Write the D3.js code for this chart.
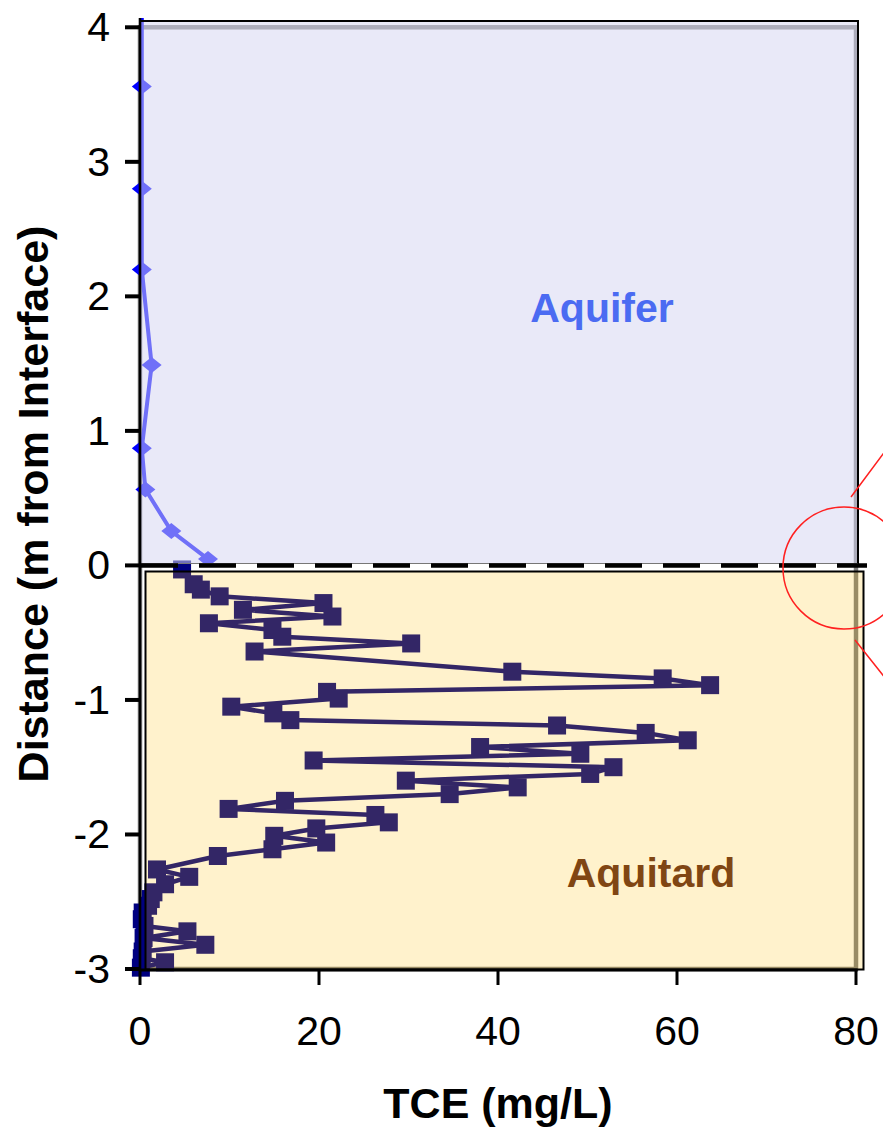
<!DOCTYPE html>
<html>
<head>
<meta charset="utf-8">
<script src="https://cdn.jsdelivr.net/npm/d3@7"></script>
<style>
	body { margin: 0; background: #fff; }
	text { font-family: 'Liberation Sans', Arial, sans-serif; }
</style>
</head>
<body>
<div id="chart"></div>
<script>
// aquifer profile: TCE (mg/L) and distance (m from interface)
const aquiferTce = [0.2, 0.2, 0.2, 0.2, 1.3, 0.2, 0.6, 3.5, 7.6]
const aquiferDepth = [4.5, 3.56, 2.8, 2.2, 1.49, 0.87, 0.565, 0.255, 0.047]

// aquitard profile
const aquitardTce = [
	4.7, 6.0, 6.8, 8.9, 20.5, 11.5, 21.5, 7.7, 14.8, 15.9, 30.3, 12.8,
	41.6, 58.4, 63.7, 20.9, 22.2, 10.2, 14.9, 16.8, 46.6, 56.5, 61.2, 38.0,
	49.2, 19.4, 52.9, 50.3, 29.7, 42.2, 34.6, 16.2, 9.9, 26.3, 27.8, 19.7,
	15.0, 20.8, 14.8, 8.7, 1.9, 5.5, 2.8, 1.5, 1.2, 0.9, 0.3, 0.2,
	0.5, 5.3, 0.4, 7.3, 0.3, 0.2, 2.8, 0.1,
]
const aquitardDepth = [
	-0.03, -0.14, -0.18, -0.23, -0.28, -0.33, -0.38, -0.43, -0.48, -0.53, -0.58, -0.64,
	-0.79, -0.84, -0.89, -0.94, -0.99, -1.05, -1.1, -1.15, -1.19, -1.245, -1.3, -1.35,
	-1.4, -1.45, -1.5, -1.55, -1.6, -1.65, -1.7, -1.75, -1.81, -1.855, -1.91, -1.955,
	-2.01, -2.06, -2.11, -2.16, -2.26, -2.315, -2.37, -2.43, -2.48, -2.53, -2.58, -2.63,
	-2.68, -2.72, -2.77, -2.82, -2.87, -2.92, -2.95, -2.99,
]

const xTicks = [0, 20, 40, 60, 80]
const yTicks = [4, 3, 2, 1, 0, -1, -2, -3]

const fullWidth = 883
const fullHeight = 1129

const x = d3.scaleLinear().domain([0, 80]).range([140, 856])
const y = d3.scaleLinear().domain([-3, 4]).range([969, 27.3])

const svg = d3
	.select('#chart')
	.append('svg')
	.attr('width', fullWidth)
	.attr('height', fullHeight)

svg
	.append('defs')
	.append('clipPath')
	.attr('id', 'clip')
	.append('rect')
	.attr('x', 0)
	.attr('y', 18)
	.attr('width', fullWidth)
	.attr('height', 1000)

// grey plot area frame (sits under the shaded zones)
svg
	.append('rect')
	.attr('x', x(0))
	.attr('y', y(4))
	.attr('width', x(80) - x(0))
	.attr('height', y(-3) - y(4))
	.attr('fill', 'none')
	.attr('stroke', '#808080')
	.attr('stroke-width', 4.5)

const aquifer = aquiferTce.map((v, i) => ({tce: v, depth: aquiferDepth[i]}))
const aquitard = aquitardTce.map((v, i) => ({tce: v, depth: aquitardDepth[i]}))

const line = d3
	.line()
	.x((d) => x(d.tce))
	.y((d) => y(d.depth))

const plot = svg.append('g').attr('clip-path', 'url(#clip)')

plot
	.append('path')
	.datum(aquifer)
	.attr('d', line)
	.attr('fill', 'none')
	.attr('stroke', '#0000ff')
	.attr('stroke-width', 4)

plot
	.selectAll('.diamond')
	.data(aquifer.slice(1))
	.enter()
	.append('path')
	.attr('d', (d) => {
		const cx = x(d.tce)
		const cy = y(d.depth)
		return `M${cx - 10},${cy}L${cx},${cy - 8}L${cx + 10},${cy}L${cx},${cy + 8}Z`
	})
	.attr('fill', '#0000ff')

plot
	.append('path')
	.datum(aquitard)
	.attr('d', line)
	.attr('fill', 'none')
	.attr('stroke', '#000080')
	.attr('stroke-width', 4.5)
	.attr('stroke-linejoin', 'round')

plot
	.selectAll('.square')
	.data(aquitard)
	.enter()
	.append('rect')
	.attr('x', (d) => x(d.tce) - 9)
	.attr('y', (d) => y(d.depth) - 9)
	.attr('width', 18)
	.attr('height', 18)
	.attr('fill', '#000080')

// shaded zones drawn on top, semi transparent
svg
	.append('rect')
	.attr('x', 140)
	.attr('y', 21)
	.attr('width', 718)
	.attr('height', 543)
	.attr('fill', 'rgb(213,213,242)')
	.attr('fill-opacity', 0.525)
svg
	.append('path')
	.attr('d', 'M140,21H858V566')
	.attr('fill', 'none')
	.attr('stroke', '#000')
	.attr('stroke-width', 2)
svg
	.append('line')
	.attr('x1', 140)
	.attr('x2', 858)
	.attr('y1', 563.5)
	.attr('y2', 563.5)
	.attr('stroke', '#777')
	.attr('stroke-width', 1)

svg
	.append('rect')
	.attr('x', 145.5)
	.attr('y', 571.5)
	.attr('width', 718)
	.attr('height', 398)
	.attr('fill', 'rgb(255,192,0)')
	.attr('fill-opacity', 0.2)
	.attr('stroke', '#000')
	.attr('stroke-width', 2)

// axes
svg
	.append('line')
	.attr('x1', x(0))
	.attr('x2', x(0))
	.attr('y1', 18)
	.attr('y2', y(-3) + 1.5)
	.attr('stroke', '#000')
	.attr('stroke-width', 2.6)
svg
	.append('line')
	.attr('x1', x(0))
	.attr('x2', x(80) + 1.5)
	.attr('y1', y(-3) + 1)
	.attr('y2', y(-3) + 1)
	.attr('stroke', '#000')
	.attr('stroke-width', 3)

svg
	.selectAll('.ytick')
	.data(yTicks)
	.enter()
	.append('line')
	.attr('x1', 125)
	.attr('x2', x(0))
	.attr('y1', (d) => y(d))
	.attr('y2', (d) => y(d))
	.attr('stroke', '#000')
	.attr('stroke-width', 4)

svg
	.selectAll('.ylabel')
	.data(yTicks)
	.enter()
	.append('text')
	.attr('x', 110)
	.attr('y', (d) => y(d) + 14)
	.attr('text-anchor', 'end')
	.attr('font-size', 41)
	.text((d) => d)

svg
	.selectAll('.xtick')
	.data(xTicks)
	.enter()
	.append('line')
	.attr('x1', (d) => x(d))
	.attr('x2', (d) => x(d))
	.attr('y1', y(-3))
	.attr('y2', 985)
	.attr('stroke', '#000')
	.attr('stroke-width', 3)

svg
	.selectAll('.xlabel')
	.data(xTicks)
	.enter()
	.append('text')
	.attr('x', (d) => x(d))
	.attr('y', 1045)
	.attr('text-anchor', 'middle')
	.attr('font-size', 41)
	.text((d) => d)

// interface line
svg
	.append('line')
	.attr('x1', 141)
	.attr('x2', 867)
	.attr('y1', y(0))
	.attr('y2', y(0))
	.attr('stroke', '#000')
	.attr('stroke-width', 4.5)
	.attr('stroke-dasharray', '37,21')

// red callout
svg
	.append('circle')
	.attr('cx', 844)
	.attr('cy', 568)
	.attr('r', 61)
	.attr('fill', 'none')
	.attr('stroke', '#ff2020')
	.attr('stroke-width', 1.5)
svg
	.append('path')
	.attr('d', 'M851,497L886,450M855,640L886,679')
	.attr('fill', 'none')
	.attr('stroke', '#ff2020')
	.attr('stroke-width', 1.5)

// labels
svg
	.append('text')
	.attr('x', 602)
	.attr('y', 322)
	.attr('text-anchor', 'middle')
	.attr('font-size', 41)
	.attr('font-weight', 'bold')
	.attr('fill', '#4b6bf2')
	.text('Aquifer')
svg
	.append('text')
	.attr('x', 651)
	.attr('y', 887)
	.attr('text-anchor', 'middle')
	.attr('font-size', 41)
	.attr('font-weight', 'bold')
	.attr('fill', '#804613')
	.text('Aquitard')

svg
	.append('text')
	.attr('x', 498)
	.attr('y', 1118)
	.attr('text-anchor', 'middle')
	.attr('font-size', 43)
	.attr('font-weight', 'bold')
	.text('TCE (mg/L)')
svg
	.append('text')
	.attr('transform', 'translate(48,504) rotate(-90)')
	.attr('text-anchor', 'middle')
	.attr('font-size', 43)
	.attr('font-weight', 'bold')
	.text('Distance (m from Interface)')
</script>
</body>
</html>
